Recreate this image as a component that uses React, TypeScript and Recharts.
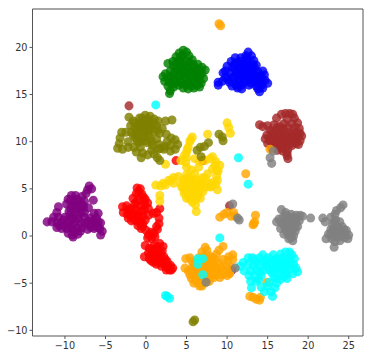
import React from 'react';
import { ScatterChart, Scatter, XAxis, YAxis, ZAxis, ReferenceLine } from 'recharts';

type Pair = [number, number];

const xTicks = [-10, -5, 0, 5, 10, 15, 20, 25];
const yTicks = [-10, -5, 0, 5, 10, 15, 20];
const xDomain = [-14, 26.76];
const yDomain = [-10.6, 24.07];

const redPoints: Pair[] = [
  [-1.1, 5.1], [-0.7, 5.0], [-1.2, 4.5], [-0.5, 4.4], [-0.1, 3.9], [-1.6, 4.0], [-0.9, 3.8], [0.2, 3.5], [-1.4, 3.4], [-0.6, 3.2],
  [-2.9, 3.1], [-2.4, 3.2], [-2.0, 2.9], [-1.2, 2.8], [-0.2, 2.8], [0.3, 2.9], [-2.8, 2.5], [-2.3, 2.3], [-1.6, 2.3], [-0.9, 2.2],
  [1.7, 2.9], [1.3, 2.5], [0.9, 2.4], [0.3, 2.2], [-2.2, 1.9], [-1.4, 1.7], [-0.7, 1.5], [-0.1, 1.7], [1.6, 1.9], [1.6, 1.3],
  [-1.0, 1.1], [-0.4, 1.0], [0.0, 0.6], [1.4, 0.7], [1.0, 0.3], [0.3, 0.1], [0.7, -0.3], [1.1, -0.1], [-0.1, -1.0], [0.4, -1.3],
  [1.0, -1.0], [1.7, -0.8], [2.1, -1.1], [2.0, -1.6], [1.5, -1.5], [0.9, -1.7], [0.3, -1.8], [-0.2, -2.2], [0.4, -2.4], [1.0, -2.3],
  [1.6, -2.2], [2.2, -2.2], [0.9, -2.8], [1.5, -2.8], [2.1, -2.8], [2.6, -2.7], [1.9, -3.2], [2.5, -3.3], [3.0, -3.1], [3.3, -3.4],
  [2.9, -3.6], [2.5, -3.6], [3.7, 8.0], [7.0, 8.0], [7.7, -4.5],
  [-0.9, 4.7], [-0.3, 4.1], [-1.2, 3.6], [-0.2, 3.4], [-2.2, 2.7], [-1.6, 2.9], [-0.6, 2.6], [-1.9, 2.2], [-1.2, 2.1], [-0.4, 2.1],
  [-1.8, 1.6], [-1.0, 1.5], [-0.4, 1.3], [-0.6, 0.8], [1.3, 1.0], [0.6, 0.4], [0.2, -0.2], [0.8, -1.4], [1.4, -1.1], [1.8, -1.9],
  [0.6, -2.0], [1.2, -1.9], [0.6, -2.6], [1.2, -2.6], [1.8, -2.5], [2.4, -2.5], [2.2, -3.0], [2.8, -3.2], [1.3, -3.0], [3.1, -3.6],
];

const purplePoints: Pair[] = [
  [-7.0, 5.3], [-6.7, 5.0], [-7.2, 4.9], [-7.4, 4.5], [-7.9, 4.2], [-8.7, 4.3], [-9.2, 4.3], [-9.6, 3.9], [-8.9, 3.8], [-8.2, 3.7],
  [-7.6, 3.7], [-6.5, 3.8], [-9.8, 3.4], [-9.1, 3.2], [-8.4, 3.2], [-7.7, 3.1], [-7.1, 3.0], [-10.8, 3.1], [-11.0, 2.5], [-9.5, 2.6],
  [-8.7, 2.6], [-8.0, 2.5], [-5.9, 2.4], [-6.4, 2.4], [-11.4, 2.0], [-10.8, 2.0], [-10.0, 2.0], [-9.0, 1.9], [-8.3, 1.8], [-7.6, 2.0],
  [-6.8, 1.9], [-6.1, 1.9], [-12.2, 1.5], [-11.6, 1.5], [-11.0, 1.4], [-10.4, 1.4], [-9.6, 1.4], [-8.9, 1.2], [-7.5, 1.3], [-6.9, 1.2],
  [-6.2, 1.3], [-5.6, 1.4], [-11.0, 0.9], [-10.4, 0.8], [-9.8, 0.8], [-9.1, 0.7], [-7.2, 0.7], [-6.4, 0.8], [-5.7, 0.8], [-5.4, 0.5],
  [-9.6, 0.3], [-9.1, 0.1], [-8.4, 0.2], [-8.1, 0.5], [-5.6, 0.1], [-9.0, -0.1],
  [-9.3, 3.8], [-8.5, 3.9], [-7.9, 3.4], [-9.3, 3.0], [-8.7, 3.0], [-8.1, 2.9], [-9.3, 2.4], [-8.4, 2.3], [-7.6, 2.5], [-9.4, 2.0],
  [-8.7, 1.6], [-8.0, 1.4], [-7.2, 1.6], [-6.5, 1.6], [-10.2, 1.7], [-9.3, 1.7], [-8.5, 0.8], [-6.0, 0.9], [-6.8, 0.9], [-5.9, 1.5],
  [-10.7, 1.1], [-10.1, 1.1], [-9.4, 1.0], [-8.8, 0.4], [-7.9, 0.9],
];

const goldPoints: Pair[] = [
  [5.7, 10.5], [5.4, 10.0], [5.2, 9.4], [5.0, 8.9], [5.0, 8.3], [4.3, 8.0], [2.4, 7.6], [7.6, 10.8], [10.0, 12.0], [10.2, 11.5],
  [10.4, 10.9], [6.0, 8.2], [6.6, 7.9], [7.3, 8.0], [8.2, 8.4], [8.6, 7.9], [9.1, 7.5], [8.7, 7.0], [5.0, 7.3], [5.6, 7.0],
  [6.5, 7.3], [8.2, 7.1], [5.0, 6.5], [6.0, 6.6], [8.7, 6.4], [3.4, 6.2], [4.0, 6.3], [4.6, 6.0], [5.4, 6.0], [6.2, 6.0],
  [7.0, 6.2], [7.6, 6.6], [8.8, 5.9], [2.8, 5.9], [3.4, 5.6], [4.3, 5.5], [5.0, 5.6], [5.8, 5.5], [6.5, 5.5], [7.8, 5.6],
  [8.6, 5.5], [2.1, 5.6], [1.2, 5.4], [1.8, 5.3], [4.6, 5.0], [5.3, 5.0], [6.0, 5.0], [6.7, 5.0], [7.4, 5.2], [8.1, 5.3],
  [8.8, 4.9], [4.7, 4.5], [5.3, 4.4], [5.9, 4.5], [6.5, 4.5], [7.0, 4.7], [1.7, 4.3], [1.7, 3.7], [5.0, 4.0], [5.5, 3.9],
  [6.1, 3.9], [6.7, 4.0], [5.7, 3.6], [6.1, 3.3], [6.2, 2.6],
  [5.5, 10.2], [5.1, 9.2], [4.7, 8.5], [4.9, 7.8], [5.3, 6.3], [4.9, 5.9], [5.5, 5.4], [6.1, 5.4], [5.0, 5.3], [4.4, 5.2],
  [4.9, 4.7], [5.6, 4.7], [6.2, 4.7], [5.2, 4.2], [5.8, 4.1], [6.4, 4.2], [5.4, 5.9], [6.0, 5.8], [6.7, 5.8], [7.0, 5.5],
  [7.3, 6.1], [8.3, 5.7], [7.9, 5.2], [8.9, 6.9], [8.5, 7.5], [7.9, 8.2], [3.1, 5.9], [2.4, 5.4],
];

const olivePoints: Pair[] = [
  [-0.1, 12.8], [0.5, 12.7], [-0.8, 12.5], [-2.1, 12.6], [-1.6, 12.2], [-0.3, 12.2], [0.4, 12.2], [1.0, 12.4], [1.5, 12.2], [2.4, 12.2],
  [3.2, 12.3], [-1.9, 11.7], [-1.0, 11.7], [-0.2, 11.7], [0.5, 11.7], [1.3, 11.7], [2.0, 11.4], [-0.6, 11.2], [0.2, 11.2], [1.0, 11.1],
  [-3.0, 11.0], [-2.5, 11.0], [-1.8, 11.0], [-1.2, 10.9], [1.7, 10.9], [2.5, 10.8], [-3.2, 10.4], [-1.3, 10.4], [-0.3, 10.5], [0.5, 10.4],
  [1.3, 10.3], [3.1, 10.4], [3.6, 10.2], [-3.3, 9.8], [-2.2, 10.0], [-0.9, 9.9], [0.1, 9.9], [2.6, 10.0], [3.9, 9.7], [-3.5, 9.3],
  [-2.9, 9.2], [-2.2, 9.4], [-1.5, 9.4], [-0.7, 9.4], [0.8, 9.6], [1.6, 9.7], [2.3, 9.5], [3.0, 9.6], [3.6, 9.2], [-1.2, 8.9],
  [-0.4, 8.8], [0.7, 9.1], [1.5, 9.2], [2.2, 9.2], [3.0, 9.0], [-0.6, 8.3], [0.2, 8.6], [1.0, 8.7], [1.4, 8.3], [1.7, 8.0],
  [6.3, 9.1], [6.7, 9.4], [7.2, 9.5], [7.7, 9.9], [6.8, 8.4], [9.0, 10.8], [9.4, 10.5], [9.5, 10.1], [5.8, -9.1], [6.0, -8.9],
  [-0.5, 12.5], [0.2, 12.4], [-1.3, 12.0], [-0.7, 11.9], [0.1, 11.9], [0.9, 11.9], [-1.4, 11.4], [-0.9, 11.4], [-0.3, 11.4], [0.5, 11.3],
  [1.4, 11.2], [-1.6, 10.7], [-0.9, 10.6], [-0.2, 11.0], [0.3, 10.7], [-0.6, 10.1], [-0.1, 10.1], [0.7, 10.0], [-1.1, 10.1], [1.8, 9.3],
];

const greenPoints: Pair[] = [
  [4.6, 19.7], [5.0, 19.5], [4.1, 19.4], [3.7, 19.0], [4.5, 19.1], [5.3, 19.1], [5.7, 18.7], [3.3, 18.5], [4.1, 18.6], [4.9, 18.6],
  [2.7, 18.3], [3.4, 18.0], [4.2, 18.0], [5.0, 18.0], [5.8, 18.2], [6.4, 18.2], [6.9, 17.9], [7.3, 17.6], [3.0, 17.5], [3.8, 17.5],
  [4.6, 17.4], [5.4, 17.5], [6.2, 17.4], [6.9, 17.2], [2.4, 17.2], [2.1, 16.9], [3.1, 16.9], [4.0, 16.9], [4.8, 16.9], [5.6, 16.8],
  [6.4, 16.8], [7.1, 16.7], [2.3, 16.4], [2.9, 16.3], [3.7, 16.3], [4.4, 16.2], [5.2, 16.2], [6.0, 16.2], [6.8, 16.2], [2.7, 15.9],
  [3.4, 15.8], [4.6, 15.7], [5.2, 15.6], [5.9, 15.7], [6.6, 15.8], [3.0, 15.4], [2.9, 15.1],
  [4.3, 19.0], [3.8, 18.5], [4.5, 18.3], [5.3, 18.4], [6.0, 17.9], [3.7, 17.9], [4.4, 17.7], [5.2, 17.8], [5.8, 17.5], [6.6, 17.6],
  [3.4, 17.2], [4.2, 17.2], [5.0, 17.2], [5.8, 17.1], [6.6, 17.0], [3.5, 16.6], [4.2, 16.5], [5.0, 16.6], [5.8, 16.5], [6.6, 16.5],
  [2.7, 16.7], [3.2, 16.1], [4.0, 16.0], [4.9, 16.0], [5.6, 15.9], [6.3, 16.0],
];

const bluePoints: Pair[] = [
  [12.6, 19.5], [12.3, 19.1], [13.0, 19.1], [11.0, 18.9], [11.7, 18.9], [12.4, 18.6], [13.3, 18.6], [10.5, 18.5], [11.2, 18.4], [12.0, 18.2],
  [12.8, 18.1], [13.6, 18.1], [10.0, 18.0], [10.7, 17.9], [9.8, 17.5], [11.4, 17.7], [12.2, 17.6], [13.0, 17.5], [13.8, 17.4], [14.4, 17.5],
  [9.5, 17.3], [10.5, 17.3], [11.2, 17.2], [12.0, 17.1], [12.8, 17.0], [13.6, 16.9], [14.6, 17.1], [9.8, 16.8], [10.6, 16.8], [11.4, 16.7],
  [12.3, 16.6], [13.1, 16.5], [14.0, 16.4], [14.7, 16.5], [8.9, 16.3], [9.4, 16.4], [10.3, 16.3], [11.0, 16.1], [11.8, 16.0], [12.7, 16.0],
  [13.6, 15.9], [14.3, 16.0], [15.0, 16.2], [8.9, 16.0], [10.6, 15.9], [11.3, 15.7], [11.8, 15.6], [13.8, 15.6], [14.4, 15.7], [14.0, 15.3],
  [12.5, 18.9], [11.6, 18.5], [12.4, 18.2], [13.2, 18.2], [10.9, 18.2], [11.7, 18.0], [11.0, 17.6], [12.6, 17.8], [13.4, 17.8], [11.6, 17.4],
  [12.4, 17.3], [13.3, 17.2], [14.1, 17.0], [11.0, 16.9], [11.8, 16.9], [12.6, 16.8], [13.4, 16.7], [14.3, 16.7], [10.1, 16.6], [11.4, 16.3],
  [12.2, 16.3], [13.0, 16.2], [13.7, 16.3], [11.2, 15.9], [14.0, 16.0],
];

const brownPoints: Pair[] = [
  [17.7, 13.0], [17.2, 13.0], [18.1, 12.9], [16.7, 12.9], [16.1, 12.5], [18.3, 12.5], [17.4, 12.4], [18.7, 12.0], [17.0, 11.9], [18.0, 11.9],
  [14.0, 11.8], [14.4, 11.6], [15.0, 11.7], [15.8, 11.8], [16.5, 11.6], [17.5, 11.5], [18.4, 11.5], [18.9, 11.4], [15.3, 11.2], [16.0, 11.2],
  [16.8, 11.1], [17.6, 11.0], [18.4, 11.0], [19.0, 10.9], [14.9, 10.7], [15.6, 10.6], [16.4, 10.6], [17.1, 10.5], [17.9, 10.5], [18.7, 10.5],
  [19.2, 10.6], [14.7, 10.3], [15.3, 10.1], [16.1, 10.1], [16.9, 10.0], [17.6, 10.0], [18.4, 10.0], [19.0, 10.1], [15.0, 9.8], [15.8, 9.6],
  [16.5, 9.5], [17.3, 9.5], [18.0, 9.6], [18.8, 9.7], [15.5, 9.3], [16.2, 9.1], [16.9, 9.0], [17.4, 8.8], [17.5, 8.2], [17.4, 8.5],
  [-2.1, 13.8], [10.3, 3.2], [10.6, -3.6],
  [16.2, 11.5], [16.9, 11.4], [15.6, 11.0], [16.4, 10.9], [17.2, 10.8], [18.0, 10.8], [18.7, 10.8], [15.2, 10.4], [16.0, 10.4], [16.8, 10.3],
  [17.5, 10.3], [18.2, 10.3], [15.5, 9.9], [16.3, 9.8], [17.0, 9.8], [17.8, 9.8], [18.5, 9.8], [16.0, 9.4], [16.8, 9.3], [17.5, 9.2],
];

const orangePoints: Pair[] = [
  [7.3, -1.2], [7.5, -1.5], [6.9, -1.7], [9.5, -1.1], [9.0, -1.5], [8.7, -1.9], [4.9, -2.4], [5.4, -2.3], [7.1, -2.2], [7.8, -2.1],
  [10.7, -2.0], [10.2, -2.2], [5.7, -2.7], [6.4, -2.8], [7.2, -2.7], [8.0, -2.7], [8.5, -2.5], [9.5, -2.5], [10.1, -2.6], [10.7, -2.5],
  [4.8, -3.4], [5.2, -3.7], [6.0, -3.3], [6.8, -3.3], [7.6, -3.2], [8.6, -3.3], [9.0, -2.9], [9.9, -3.2], [10.4, -3.3], [5.9, -3.9],
  [6.6, -3.9], [7.4, -3.8], [8.1, -3.8], [8.9, -3.9], [9.5, -3.7], [10.3, -3.9], [10.0, -4.2], [5.6, -4.5], [6.2, -4.5], [7.0, -4.5],
  [7.7, -4.4], [8.4, -4.4], [9.1, -4.4], [5.9, -5.0], [6.5, -5.0], [7.2, -5.0], [7.8, -4.8], [6.6, -5.3], [12.8, -6.4], [13.2, -6.5],
  [13.6, -6.7], [14.0, -6.8], [14.1, -6.5], [14.9, -4.9], [9.0, 22.5], [9.2, 22.3], [15.3, 9.2], [9.1, 2.0], [9.6, 2.3], [10.0, 2.5],
  [10.8, 2.5], [11.0, 2.1], [10.5, 2.1], [12.3, 6.6], [13.5, 2.2], [13.3, 1.3], [13.2, 1.2], [13.4, 1.5],
  [6.3, -3.3], [7.0, -3.0], [7.7, -2.8], [8.3, -3.0], [5.6, -3.4], [6.2, -3.8], [7.0, -3.7], [7.8, -3.5], [8.5, -3.6], [5.4, -4.1],
  [6.0, -4.3], [6.7, -4.3], [7.4, -4.2], [8.1, -4.1], [8.7, -4.1], [6.2, -4.8], [6.9, -4.8], [7.5, -4.6], [7.3, -2.4], [10.3, -4.0],
  [6.5, -2.3], [7.6, -2.4], [8.2, -2.3], [5.9, -2.9], [6.6, -3.6], [7.3, -3.4], [8.0, -3.2], [5.9, -3.6], [8.5, -4.0], [9.4, -4.1],
  [9.3, -3.3], [6.5, -4.7], [7.2, -4.7], [7.9, -4.3], [6.9, -5.3],
];

const cyanPoints: Pair[] = [
  [17.2, -1.7], [17.7, -1.7], [16.6, -1.9], [18.0, -2.0], [15.7, -2.0], [14.4, -2.0], [14.0, -2.3], [15.1, -2.3], [16.1, -2.4], [16.9, -2.3],
  [17.6, -2.4], [18.3, -2.4], [12.6, -2.3], [13.1, -2.3], [13.6, -2.8], [14.5, -2.8], [15.5, -2.9], [16.4, -2.9], [17.2, -2.9], [18.2, -3.0],
  [18.5, -3.4], [12.0, -2.8], [11.6, -3.2], [12.6, -3.0], [14.1, -3.2], [15.0, -3.3], [16.0, -3.4], [16.9, -3.5], [17.8, -3.5], [18.7, -3.8],
  [12.1, -3.7], [12.9, -3.7], [13.6, -3.6], [14.4, -3.7], [15.5, -3.9], [16.4, -4.0], [17.3, -4.1], [18.1, -4.0], [12.7, -4.2], [13.4, -4.3],
  [14.2, -4.2], [15.8, -4.4], [16.6, -4.6], [17.4, -4.5], [12.9, -4.8], [13.6, -4.8], [15.2, -4.9], [16.1, -5.0], [13.0, -5.5], [14.2, -5.4],
  [15.0, -5.3], [15.9, -5.5], [14.6, -5.9], [15.4, -5.9], [15.6, -6.4], [1.2, 13.9], [11.4, 8.3], [12.6, 5.5], [9.1, -0.2], [2.4, -6.3],
  [2.6, -6.4], [2.9, -6.6], [6.4, -2.4], [7.0, -2.4], [6.4, -3.0], [7.0, -4.1],
  [13.4, -2.5], [14.8, -2.5], [15.8, -2.6], [16.6, -2.6], [17.4, -2.6], [14.9, -3.0], [16.2, -3.1], [17.0, -3.2], [17.8, -3.0], [15.7, -3.5],
  [16.5, -3.6], [17.3, -3.6], [13.2, -3.1], [14.0, -3.8], [15.2, -3.6], [16.1, -4.5], [17.0, -4.3], [13.9, -4.6],
];

const grayPoints: Pair[] = [
  [16.7, 2.8], [17.2, 2.5], [17.9, 2.3], [18.5, 2.2], [19.0, 2.2], [19.3, 2.1], [20.3, 1.9], [16.9, 2.0], [17.6, 1.8], [18.3, 1.7],
  [18.9, 1.6], [16.1, 1.5], [16.7, 1.4], [17.4, 1.3], [18.1, 1.2], [18.7, 1.0], [16.6, 0.8], [17.2, 0.7], [17.8, 0.6], [18.4, 0.5],
  [17.0, 0.2], [17.6, 0.1], [18.2, 0.0], [17.6, -0.3], [18.1, -0.5],
  [24.3, 3.3], [24.0, 3.0], [23.5, 2.7], [23.3, 2.3], [22.8, 2.0], [21.8, 1.9], [22.1, 1.5], [23.4, 1.7], [23.9, 1.5], [23.0, 1.2],
  [23.6, 1.0], [24.2, 1.0], [22.8, 0.7], [23.4, 0.5], [24.0, 0.5], [24.7, 0.6], [25.0, 0.1], [22.5, 0.2], [23.1, 0.0], [23.7, -0.1],
  [24.5, -0.2], [24.9, -0.3], [22.2, -0.3], [23.3, -0.6], [23.9, -0.5], [23.2, -1.2],
  [15.7, 9.0], [15.3, 8.3], [15.5, 7.7], [10.7, 3.4], [11.5, 1.7], [11.3, 1.9], [7.4, -4.9], [11.0, -3.4],
  [17.3, 2.2], [18.0, 2.0], [18.6, 1.9], [16.4, 1.8], [17.2, 1.6], [17.9, 1.5], [18.5, 1.4], [17.0, 1.1], [17.7, 1.0], [18.4, 0.9],
  [17.4, 0.4], [18.0, 0.3], [17.9, -0.2], [23.2, 1.5], [23.1, 0.7], [23.7, 0.7], [24.4, 0.7], [22.8, 0.3], [23.4, 0.2], [24.0, 0.1],
  [22.9, -0.3], [24.6, 0.2],
];

const seriesList: { color: string; points: Pair[] }[] = [
  { color: 'red', points: redPoints },
  { color: 'purple', points: purplePoints },
  { color: 'gold', points: goldPoints },
  { color: 'olive', points: olivePoints },
  { color: 'green', points: greenPoints },
  { color: 'blue', points: bluePoints },
  { color: 'brown', points: brownPoints },
  { color: 'orange', points: orangePoints },
  { color: 'cyan', points: cyanPoints },
  { color: 'gray', points: grayPoints },
];

const tickStyle = { fontFamily: 'DejaVu Sans', fontSize: 9.7, fill: '#333' };
const formatTick = (v: number) => String(v).replace('-', '\u2212');

export default function App() {
  return (
    <div style={{ position: 'absolute', left: 0, top: 0 }}>
      <ScatterChart width={381} height={360} margin={{ top: 9, right: 18, bottom: 0, left: 0 }}>
        <XAxis
          type="number"
          dataKey="x"
          domain={xDomain}
          ticks={xTicks}
          interval={0}
          allowDataOverflow
          height={24}
          tickSize={3}
          tickMargin={3}
          stroke="#555"
          tick={tickStyle}
          tickFormatter={formatTick}
        />
        <YAxis
          type="number"
          dataKey="y"
          domain={yDomain}
          ticks={yTicks}
          interval={0}
          allowDataOverflow
          width={32.5}
          tickSize={3}
          tickMargin={2}
          stroke="#555"
          tick={tickStyle}
          tickFormatter={formatTick}
        />
        <ZAxis range={[38, 38]} />
        <ReferenceLine y={yDomain[1]} stroke="#a6a6a6" strokeWidth={2} />
        <ReferenceLine x={xDomain[1]} stroke="#555" />
        {seriesList.map((s) => (
          <Scatter
            key={s.color}
            data={s.points.map(([x, y]) => ({ x, y }))}
            fill={s.color}
            fillOpacity={0.82}
            isAnimationActive={false}
          />
        ))}
      </ScatterChart>
    </div>
  );
}
